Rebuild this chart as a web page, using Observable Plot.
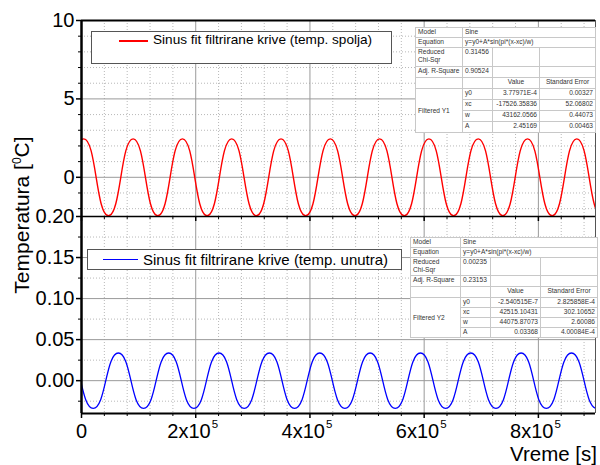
<!DOCTYPE html>
<html><head><meta charset="utf-8">
<script src="https://cdn.jsdelivr.net/npm/d3@7"></script>
<script src="https://cdn.jsdelivr.net/npm/@observablehq/plot@0.6"></script>
<style>
body{margin:0;background:#fff;font-family:"Liberation Sans",Arial,sans-serif;}
#wrap{position:relative;width:600px;height:465px;overflow:hidden;background:#fff;}
.chart{position:absolute;left:0;}
.legend{position:absolute;background:#fff;border:1px solid #555;box-sizing:border-box;}
.legend .ln{position:absolute;}
.legend .tx{position:absolute;white-space:nowrap;color:#000;}
table.fit{position:absolute;border-collapse:collapse;table-layout:fixed;background:#fff;font-size:6.6px;color:#333;border:1px solid #000;}
table.fit td{border:1px solid #c8c8c8;padding:0 2px;line-height:8px;vertical-align:top;white-space:nowrap;overflow:hidden;}
table.fit td.r{text-align:right;}
table.fit td.mid{vertical-align:middle;}
.ylab{position:absolute;left:22px;top:215px;transform:translate(-50%,-50%) rotate(-90deg);font-size:21px;white-space:nowrap;}
.ylab sup{font-size:12px;}
.xlab{position:absolute;right:3px;top:446.2px;font-size:20.5px;line-height:15px;white-space:nowrap;}
</style></head><body><div id="wrap">
<div id="bot" class="chart" style="top:216px"></div>
<div id="top" class="chart" style="top:0px"></div>
<div class="ylab">Temperatura [<sup>0</sup>C]</div>
<div class="xlab">Vreme [s]</div>
</div>
<script>
// ---- data ----
const xDomain = [0, 900000];
const topDomain = [-2.5, 10];
const botDomain = [-0.04, 0.20];

// extrema (peaks / troughs) of the fitted curves, time in s
const topExtremaTime = [-39107, 4055, 47217, 90379, 133541, 176703, 219865, 263027, 306189, 349351, 392513, 435675, 478837, 521999, 565161, 608323, 651485, 694647, 737809, 780971, 824133, 867295, 910457];
const topExtremaValue = [-2.45, 2.45, -2.45, 2.45, -2.45, 2.45, -2.45, 2.45, -2.45, 2.45, -2.45, 2.45, -2.45, 2.45, -2.45, 2.45, -2.45, 2.45, -2.45, 2.45, -2.45, 2.45, -2.45];
const botExtremaTime = [-23599, 20477, 64553, 108629, 152705, 196781, 240857, 284933, 329009, 373085, 417161, 461237, 505313, 549389, 593465, 637541, 681617, 725693, 769769, 813845, 857921, 901997];
const botExtremaValue = [0.0337, -0.0337, 0.0337, -0.0337, 0.0337, -0.0337, 0.0337, -0.0337, 0.0337, -0.0337, 0.0337, -0.0337, 0.0337, -0.0337, 0.0337, -0.0337, 0.0337, -0.0337, 0.0337, -0.0337, 0.0337, -0.0337];

const xMajor = [0, 200000, 400000, 600000, 800000];
const xMajorLabels = ["0", "2x10", "4x10", "6x10", "8x10"];
const xExponent = "5";
const xMinor = [40000, 80000, 120000, 160000, 240000, 280000, 320000, 360000, 440000, 480000, 520000, 560000, 640000, 680000, 720000, 760000, 840000, 880000];
const topMajorY = [0, 5, 10];
const topYLabels = ["0", "5", "10"];
const topMinorY = [-2, -1, 1, 2, 3, 4, 6, 7, 8, 9];
const botMajorY = [0, 0.05, 0.10, 0.15, 0.20];
const botYLabels = ["0.00", "0.05", "0.10", "0.15", "0.20"];
const botMinorY = [-0.025, 0.025, 0.075, 0.125, 0.175];

const legendTop = "Sinus fit filtrirane krive (temp. spolja)";
const legendBot = "Sinus fit filtrirane krive (temp. unutra)";

const tableTop = {
  model: "Sine", equation: "y=y0+A*sin(pi*(x-xc)/w)", chi: "0.31456", adj: "0.90524", name: "Filtered Y1",
  params: ["y0", "xc", "w", "A"],
  values: ["3.77971E-4", "-17526.35836", "43162.0566", "2.45169"],
  errors: ["0.00327", "52.06802", "0.44073", "0.00463"]
};
const tableBot = {
  model: "Sine", equation: "y=y0+A*sin(pi*(x-xc)/w)", chi: "0.00235", adj: "0.23153", name: "Filtered Y2",
  params: ["y0", "xc", "w", "A"],
  values: ["-2.540515E-7", "42515.10431", "44075.87073", "0.03368"],
  errors: ["2.825858E-4", "302.10652", "2.60086", "4.00084E-4"]
};

// ---- build ----
const topData = topExtremaTime.map((t, i) => ({t, v: topExtremaValue[i]}));
const botData = botExtremaTime.map((t, i) => ({t, v: botExtremaValue[i]}));
const font = "Liberation Sans, Arial, sans-serif";
const blank = () => "";
const tickFont = 20;

const topPlot = Plot.plot({
  width: 600, height: 224, marginTop: 20, marginBottom: 8, marginLeft: 81, marginRight: 5,
  style: {background: "transparent", fontFamily: font, fontSize: tickFont + "px", overflow: "visible", color: "#000"},
  x: {domain: xDomain},
  y: {domain: topDomain},
  marks: [
    Plot.ruleY(topMinorY, {stroke: "#b8b8b8", strokeDasharray: "1,2"}),
    Plot.ruleX(xMinor, {stroke: "#b8b8b8", strokeDasharray: "1,2"}),
    Plot.ruleY(topMajorY, {stroke: "#9a9a9a"}),
    Plot.ruleX(xMajor, {stroke: "#9a9a9a"}),
    Plot.ruleX([xDomain[1]], {stroke: "#555"}),
    Plot.line(topData, {x: "t", y: "v", curve: "bump-x", stroke: "#ff0000", strokeWidth: 1.4, clip: true}),
    Plot.ruleY([topDomain[1]], {stroke: "#000", strokeWidth: 2}),
    Plot.ruleY([topDomain[0]], {stroke: "#000", strokeWidth: 1.5}),
    Plot.axisY({ticks: topMajorY, tickSize: 5, tickFormat: blank, label: null, strokeWidth: 1.5}),
    Plot.axisY({ticks: topMinorY, tickSize: 3, tickFormat: blank, label: null}),
    Plot.text(topMajorY, {y: d => d, frameAnchor: "left", dx: -7, textAnchor: "end", lineAnchor: "middle", text: (d, i) => topYLabels[i], fontSize: tickFont, fill: "#000"}),
    Plot.axisX({ticks: xMajor, tickSize: 5, tickFormat: blank, label: null, strokeWidth: 1.5}),
    Plot.axisX({ticks: xMinor, tickSize: 3, tickFormat: blank, label: null}),
    Plot.ruleX([xDomain[0]], {stroke: "#000", strokeWidth: 2.5})
  ]
});
document.getElementById("top").append(topPlot);

const xLab = xMajor.slice(1);
const botPlot = Plot.plot({
  width: 600, height: 249, marginTop: 0, marginBottom: 52, marginLeft: 81, marginRight: 5,
  style: {background: "transparent", fontFamily: font, fontSize: tickFont + "px", overflow: "visible", color: "#000"},
  x: {domain: xDomain},
  y: {domain: botDomain},
  marks: [
    Plot.ruleY(botMinorY, {stroke: "#b8b8b8", strokeDasharray: "1,2"}),
    Plot.ruleX(xMinor, {stroke: "#b8b8b8", strokeDasharray: "1,2"}),
    Plot.ruleY(botMajorY, {stroke: "#9a9a9a"}),
    Plot.ruleX(xMajor, {stroke: "#9a9a9a"}),
    Plot.ruleX([xDomain[1]], {stroke: "#555"}),
    Plot.line(botData, {x: "t", y: "v", curve: "bump-x", stroke: "#0000ff", strokeWidth: 1.3, clip: true}),
    Plot.ruleY([botDomain[0]], {stroke: "#000", strokeWidth: 2}),
    Plot.axisY({ticks: botMajorY, tickSize: 5, tickFormat: blank, label: null, strokeWidth: 1.5}),
    Plot.axisY({ticks: botMinorY, tickSize: 3, tickFormat: blank, label: null}),
    Plot.text(botMajorY, {y: d => d, frameAnchor: "left", dx: -7, textAnchor: "end", lineAnchor: "middle", text: (d, i) => botYLabels[i], fontSize: tickFont, fill: "#000"}),
    Plot.axisX({ticks: xMajor, tickSize: 5, tickFormat: blank, label: null, strokeWidth: 1.5}),
    Plot.axisX({ticks: xMinor, tickSize: 3, tickFormat: blank, label: null}),
    Plot.text([xMajor[0]], {x: d => d, frameAnchor: "bottom", lineAnchor: "middle", dy: 18.5, text: () => xMajorLabels[0], textAnchor: "middle", fontSize: tickFont, fill: "#000"}),
    Plot.text(xLab, {x: d => d, frameAnchor: "bottom", lineAnchor: "middle", dy: 18.5, dx: 15, text: (d, i) => xMajorLabels[i + 1], textAnchor: "end", fontSize: tickFont, fill: "#000"}),
    Plot.text(xLab, {x: d => d, frameAnchor: "bottom", lineAnchor: "middle", dy: 10.5, dx: 16, text: () => xExponent, textAnchor: "start", fontSize: 11.5, fill: "#000"}),
    Plot.ruleX([xDomain[0]], {stroke: "#000", strokeWidth: 2.5})
  ]
});
document.getElementById("bot").append(botPlot);

// legends
function legend(left, top, w, h, color, lx1, lx2, ly, lw, tx, fs, text) {
  const d = document.createElement("div");
  d.className = "legend";
  d.style.cssText = `left:${left}px;top:${top}px;width:${w}px;height:${h}px;`;
  d.innerHTML = `<div class="ln" style="left:${lx1 - left - 1}px;top:${ly - top - 1 - lw / 2}px;width:${lx2 - lx1}px;height:${lw}px;background:${color}"></div>` +
    `<div class="tx" style="left:${tx - left - 1}px;top:${ly - top - 1 - fs * 0.6}px;font-size:${fs}px;line-height:${fs * 1.2}px">${text}</div>`;
  document.getElementById("wrap").append(d);
}
legend(91, 31, 301, 33, "#ff0000", 119, 148, 40.5, 2, 153, 13.6, legendTop);
legend(87, 249, 315, 21, "#0000ff", 103, 138, 259.5, 1.2, 143, 15, legendBot);

// fit tables
function fitTable(t, left, top, widths, rows) {
  const tb = document.createElement("table");
  tb.className = "fit";
  tb.style.left = left + "px"; tb.style.top = top + "px";
  tb.style.width = widths.reduce((a, b) => a + b, 0) + "px";
  const [hM, hE, hC, hA, hH, hP] = rows;
  let html = "<colgroup>" + widths.map(w => `<col style="width:${w}px">`).join("") + "</colgroup>";
  html += `<tr style="height:${hM}px"><td>Model</td><td colspan="3">${t.model}</td></tr>`;
  html += `<tr style="height:${hE}px"><td>Equation</td><td colspan="3">${t.equation}</td></tr>`;
  html += `<tr style="height:${hC}px"><td>Reduced<br>Chi-Sqr</td><td>${t.chi}</td><td></td><td></td></tr>`;
  html += `<tr style="height:${hA}px"><td>Adj. R-Square</td><td>${t.adj}</td><td></td><td></td></tr>`;
  html += `<tr style="height:${hH}px"><td></td><td></td><td style="text-align:center">Value</td><td style="text-align:center">Standard Error</td></tr>`;
  t.params.forEach((p, i) => {
    html += `<tr style="height:${hP}px">` + (i === 0 ? `<td rowspan="4" class="mid">${t.name}</td>` : "") +
      `<td>${p}</td><td class="r">${t.values[i]}</td><td class="r">${t.errors[i]}</td></tr>`;
  });
  tb.innerHTML = html;
  document.getElementById("wrap").append(tb);
}
fitTable(tableTop, 415, 27, [47, 30, 47, 56], [10, 10, 19, 11, 11, 11]);
fitTable(tableBot, 410, 237, [50, 30, 50, 57], [10, 10, 18, 11, 11, 10]);
</script>
</body></html>
